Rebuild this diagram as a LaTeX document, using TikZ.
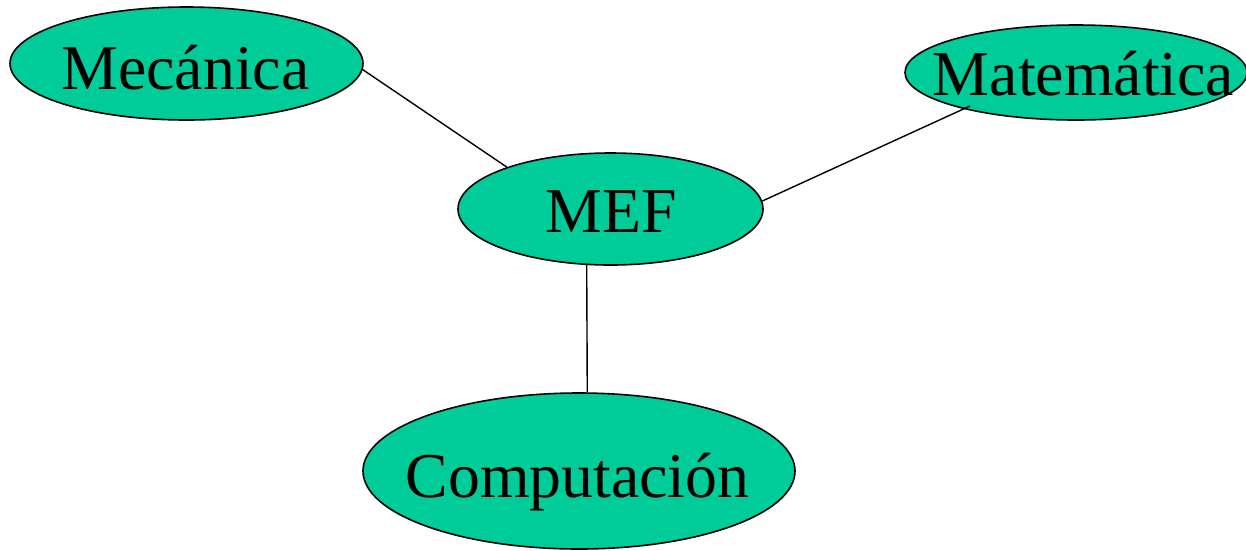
\documentclass[tikz,border=0pt]{standalone}
\usepackage{fontspec}
\setmainfont{Liberation Serif}
\usetikzlibrary{shapes.geometric}
\definecolor{blobfill}{HTML}{00CC99}
\tikzset{
  blob/.style={ellipse, draw=black, line width=1.6pt, fill=blobfill, inner sep=0pt},
  lbl/.style={anchor=base, inner sep=0pt, font=\fontsize{63.8}{70}\selectfont},
  link/.style={draw=black, line width=1.4pt}
}
\begin{document}
\begin{tikzpicture}[x=1pt,y=-1pt]
\useasboundingbox (0,0) rectangle (1246,550);
\node[blob, minimum width=353pt, minimum height=113pt] (mec) at (186.5,63.5) {};
\node[blob, minimum width=342pt, minimum height=95pt] (mat) at (1076,72.5) {};
\node[blob, minimum width=305pt, minimum height=112pt] (mef) at (610.5,209) {};
\node[blob, minimum width=432pt, minimum height=156pt] (comp) at (579,471) {};
\node[lbl] (tmec) at (185.5,89) {Mecánica};
\node[lbl] (tmat) at (1083.5,95) {Matemática};
\node[lbl] (tmef) at (611,232) {MEF};
\node[lbl] (tcomp) at (577.5,497) {Computación};
\coordinate (matend) at ([shift={(-106,33.5)}]mat.center);
\draw[link] (mec.-2.8) -- (mef.158.2);
\draw[link] (matend) -- (mef.3);
\draw[link] (mef.247.2) -- (comp.84.1);
\end{tikzpicture}
\end{document}
